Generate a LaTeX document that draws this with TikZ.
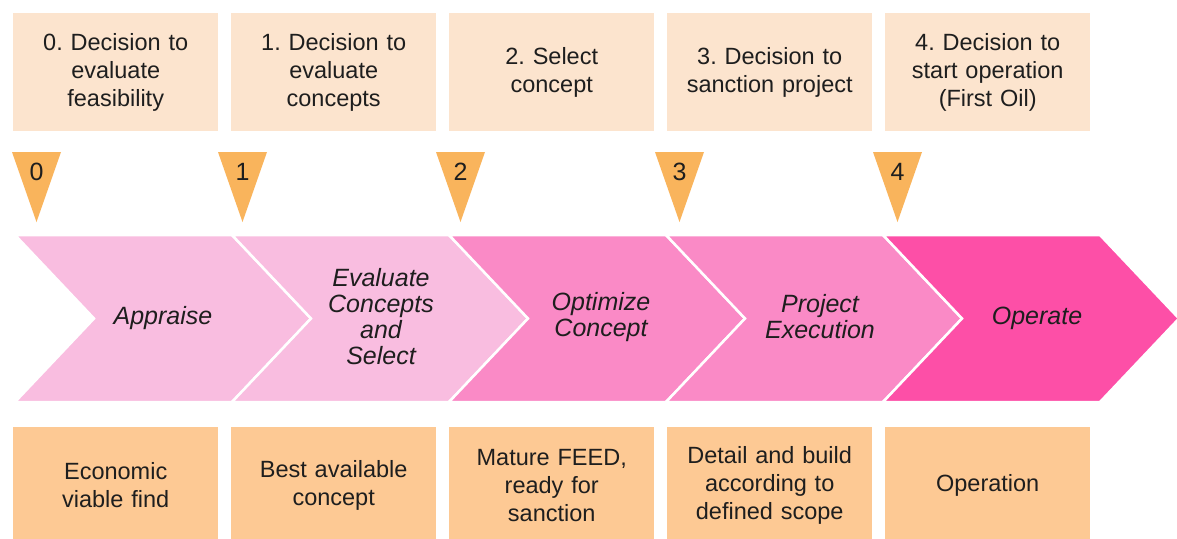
\documentclass[tikz,border=0pt]{standalone}
\usepackage{fontspec}
\setmainfont{Liberation Sans}
\frenchspacing
\definecolor{decisionfill}{HTML}{FCE4CE}
\definecolor{outcomefill}{HTML}{FDC994}
\definecolor{gatefill}{HTML}{F9B45C}
\definecolor{phaseA}{HTML}{F9BDE0}
\definecolor{phaseB}{HTML}{FA8AC6}
\definecolor{phaseC}{HTML}{FD4FA7}
\definecolor{ink}{HTML}{1E1E1E}

\begin{document}
\begin{tikzpicture}[x=1pt,y=-1pt,
  box/.style={anchor=north west, minimum width=205pt, inner sep=0pt, align=center,
    text width=195pt, text=ink, font=\fontsize{23.5}{28}\selectfont},
  decision/.style={box, fill=decisionfill, minimum height=118pt},
  outcome/.style={box, fill=outcomefill, minimum height=116pt},
  gate/.style={fill=gatefill},
  gatenum/.style={text=ink, font=\fontsize{25}{25}\selectfont, inner sep=0pt},
  phase/.style={draw=white, line width=2.5pt, line join=miter},
  phaselabel/.style={text=ink, align=center, inner sep=0pt,
    font=\fontsize{25}{26}\selectfont\itshape}
]
\useasboundingbox (0,0) rectangle (1177,538);
\fill[white] (0,0) rectangle (1177,538);

% phase chevrons, left to right
\foreach \i/\c in {0/phaseA,1/phaseA,2/phaseB,3/phaseB,4/phaseC} {
  \pgfmathsetmacro\s{15+217*\i}
  \filldraw[phase, fill=\c] (\s,235) -- (\s+217,235) -- (\s+296,318.5)
    -- (\s+217,402) -- (\s,402) -- (\s+79,318.5) -- cycle;
}
\node[phaselabel] (p0) at (163,318.5) {Appraise};
\node[phaselabel] (p1) at (381,317) {Evaluate\\Concepts\\and\\Select};
\node[phaselabel] (p2) at (601,317) {Optimize\\Concept};
\node[phaselabel] (p3) at (820,317) {Project\\Execution};
\node[phaselabel] (p4) at (1037,318.5) {Operate};

% decision gates
\foreach \x/\n in {36.5/0,242.5/1,460.5/2,679.5/3,897.5/4} {
  \fill[gate] (\x-24.5,152) -- (\x+24.5,152) -- (\x,222) -- cycle;
  \node[gatenum] (g\n) at (\x,172) {\n};
}

% decision descriptions
\node[decision] (d0) at (13,13)  {0. Decision to\\evaluate\\feasibility};
\node[decision] (d1) at (231,13) {1. Decision to\\evaluate\\concepts};
\node[decision] (d2) at (449,13) {2. Select\\concept};
\node[decision] (d3) at (667,13) {3. Decision to\\sanction project};
\node[decision] (d4) at (885,13) {4. Decision to\\start operation\\(First Oil)};

% phase outcomes
\node[outcome] (o0) at (13,427)  {Economic\\viable find};
\node[outcome] (o1) at (231,427) {Best available\\concept};
\node[outcome] (o2) at (449,427) {Mature FEED,\\ready for\\sanction};
\node[outcome] (o3) at (667,427) {Detail and build\\according to\\defined scope};
\node[outcome] (o4) at (885,427) {Operation};
\end{tikzpicture}
\end{document}
